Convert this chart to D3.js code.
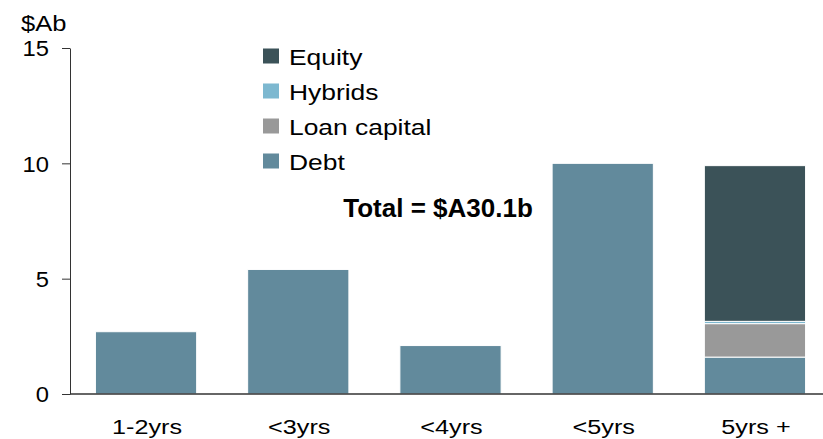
<!DOCTYPE html>
<html>
<head>
<meta charset="utf-8">
<script src="https://cdn.jsdelivr.net/npm/d3@7"></script>
<style>
  body { margin: 0; background: #fff; }
  text { font-family: "Liberation Sans", Arial, sans-serif; fill: #000; }
</style>
</head>
<body>
<div class="canvas"></div>
<script>
// data
const categories = ['1-2yrs', '<3yrs', '<4yrs', '<5yrs', '5yrs +']
const debt = [2.7, 5.4, 2.1, 10.0, 1.6]
const loanCapital = [0, 0, 0, 0, 1.45]
const hybrids = [0, 0, 0, 0, 0.1]
const equity = [0, 0, 0, 0, 6.75]
const yTicks = [0, 5, 10, 15]
const seriesNames = ['Debt', 'Loan capital', 'Hybrids', 'Equity']
const colours = ['#628a9c', '#999999', '#7db8d0', '#3b5258']

const width = 823
const height = 439

const svg = d3.select('.canvas')
  .append('svg')
  .attr('width', width)
  .attr('height', height)

const margin = { top: 48, right: 0, bottom: 45, left: 70 }
const graphHeight = height - margin.top - margin.bottom

const graph = svg.append('g')
  .attr('transform', `translate(${margin.left}, ${margin.top})`)

// text is a bit wider than plain Arial in the original, so stretch it sideways
const stretched = (parent, x, y, sx, txt) => parent.append('text')
  .attr('transform', `translate(${x}, ${y}) scale(${sx}, 1)`)
  .text(txt)

// scales
const y = d3.scaleLinear()
  .domain([0, 15])
  .range([graphHeight, 0])

const x = d3.scaleBand()
  .domain(categories)
  .range([0, 761])
  .paddingInner(0.335)
  .paddingOuter(0.167)

// stack the series
const table = categories.map((c, i) => ({
  cat: c,
  'Debt': debt[i],
  'Loan capital': loanCapital[i],
  'Hybrids': hybrids[i],
  'Equity': equity[i]
}))
const stacked = d3.stack().keys(seriesNames)(table)

graph.selectAll('g.layer')
  .data(stacked)
  .enter()
  .append('g')
  .attr('class', 'layer')
  .attr('fill', (d, i) => colours[i])
  .selectAll('rect')
  .data(d => d.filter(p => p[1] - p[0] > 0))
  .enter()
  .append('rect')
  .attr('x', d => x(d.data.cat))
  .attr('width', x.bandwidth())
  .attr('y', d => y(d[1]))
  .attr('height', d => y(d[0]) - y(d[1]))
  .attr('stroke', '#fff')
  .attr('stroke-width', 1)

// axes
const yAxis = d3.axisLeft(y)
  .tickValues(yTicks)
  .tickSize(8)
  .tickSizeOuter(0)

const yAxisGroup = graph.append('g').call(yAxis)
yAxisGroup.select('.domain').attr('stroke', '#333')
yAxisGroup.selectAll('.tick line').attr('stroke', '#333')
yAxisGroup.selectAll('.tick text')
  .attr('x', null)
  .attr('dy', '0.36em')
  .attr('transform', 'translate(-21, 0) scale(1.08, 1)')
  .attr('font-size', 22)
  .attr('font-family', '"Liberation Sans", Arial, sans-serif')

// x axis baseline across the whole width
graph.append('line')
  .attr('x1', 0)
  .attr('x2', width - margin.left)
  .attr('y1', y(0))
  .attr('y2', y(0))
  .attr('stroke', '#333')
  .attr('stroke-width', 1.5)

categories.forEach(c => {
  stretched(graph, x(c) + x.bandwidth() / 2 + 1, graphHeight + 40, 1.2, c)
    .attr('text-anchor', 'middle')
    .attr('font-size', 21)
})

// unit label
stretched(svg, 21, 31, 1.16, '$Ab')
  .attr('font-size', 22)

// legend
const legendNames = ['Equity', 'Hybrids', 'Loan capital', 'Debt']
const legendColours = ['#3b5258', '#7db8d0', '#999999', '#628a9c']
const legend = svg.append('g')
  .attr('transform', 'translate(263, 56)')

legendNames.forEach((name, i) => {
  legend.append('rect')
    .attr('x', 0)
    .attr('y', i * 35 - 7.5)
    .attr('width', 16)
    .attr('height', 15)
    .attr('fill', legendColours[i])
  stretched(legend, 26, i * 35 + 9, 1.2, name)
    .attr('font-size', 22)
})

// total note
svg.append('text')
  .attr('x', 438)
  .attr('y', 217)
  .attr('text-anchor', 'middle')
  .attr('font-size', 26)
  .attr('font-weight', 'bold')
  .text('Total = $A30.1b')
</script>
</body>
</html>
